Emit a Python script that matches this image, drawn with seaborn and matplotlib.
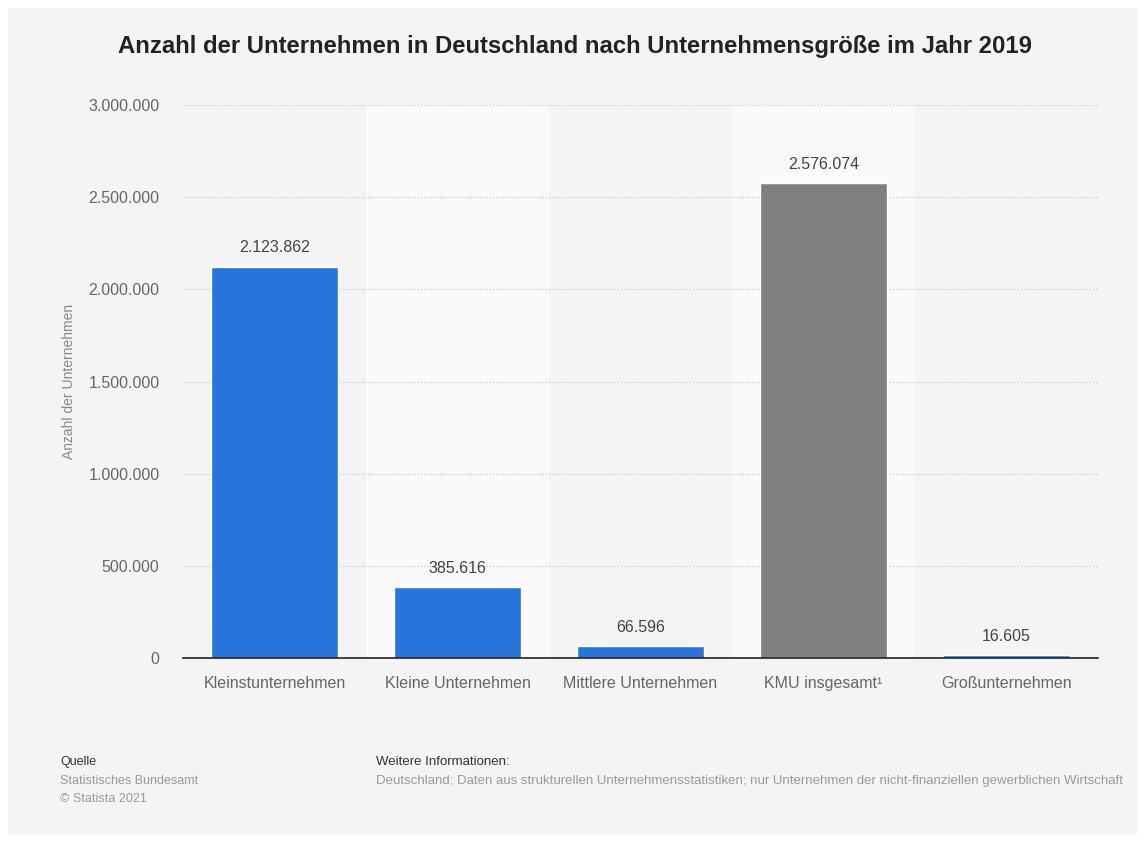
import matplotlib
matplotlib.use("Agg")
import matplotlib.pyplot as plt
import seaborn as sns
import pandas as pd
from matplotlib.patches import Rectangle
from matplotlib.ticker import FuncFormatter

categories = ["Kleinstunternehmen", "Kleine Unternehmen", "Mittlere Unternehmen",
              "KMU insgesamt¹", "Großunternehmen"]
values = [2123862, 385616, 66596, 2576074, 16605]
bar_colors = ["#2775dc", "#2775dc", "#2775dc", "#7f7f7f", "#2775dc"]
yticks = [0, 500000, 1000000, 1500000, 2000000, 2500000, 3000000]

def de_fmt(v):
    return f"{int(round(v)):,}".replace(",", ".")

sns.set_theme(style="white")
plt.rcParams['font.family'] = ['Liberation Sans', 'DejaVu Sans']

df = pd.DataFrame({"cat": categories, "val": values})

fig = plt.figure(figsize=(11.45, 8.41), dpi=100)
fig.patch.set_facecolor("white")
card = Rectangle((8/1145, 1-835/841), (1137-8)/1145, (835-8)/841,
                 transform=fig.transFigure, facecolor="#f4f4f4",
                 edgecolor="none", zorder=-10)
fig.patches.append(card)

ax = fig.add_axes([183/1145, 1-658/841, (1098-183)/1145, (658-105)/841])
ax.set_facecolor("none")
ax.set_zorder(2)

for i in range(len(categories)):
    if i % 2 == 1:
        ax.axvspan(i-0.5, i+0.5, color="#fafafa", zorder=0, lw=0)

sns.barplot(data=df, x="cat", y="val", hue="cat", palette=bar_colors,
            legend=False, width=0.69, saturation=1, ax=ax, zorder=3)

ax.set_xlim(-0.5, len(categories)-0.5)
ax.set_ylim(0, 3000000)
ax.set_yticks(yticks)
ax.yaxis.set_major_formatter(FuncFormatter(lambda v, p: de_fmt(v)))
ax.grid(axis="y", color="#c8c8c8", linestyle=(0, (1, 1.5)), linewidth=0.9, zorder=1)
ax.set_axisbelow(True)
for s in ["top", "right", "left"]:
    ax.spines[s].set_visible(False)
ax.spines["bottom"].set_color("#222222")
ax.spines["bottom"].set_linewidth(1.2)
ax.spines["bottom"].set_zorder(5)
ax.tick_params(axis="y", length=0, pad=17, labelsize=11.5, labelcolor="#666666")
ax.tick_params(axis="x", length=0, pad=13, labelsize=11.5, labelcolor="#666666")
ax.set_xlabel("")
ax.set_ylabel("Anzahl der Unternehmen", fontsize=10, color="#888888", labelpad=9)

for i, v in enumerate(values):
    ax.annotate(de_fmt(v), (i, v), xytext=(0, 8), textcoords="offset points",
                ha="center", va="bottom", fontsize=11.5, color="#444444")

fig.text(575/1145, 1-47/841, "Anzahl der Unternehmen in Deutschland nach Unternehmensgröße im Jahr 2019",
         ha="center", va="center", fontsize=17.2, fontweight="bold", color="#222222")

fig.text(60/1145, 1-762/841, "Quelle", ha="left", va="center", fontsize=9, color="#333333")
fig.text(60/1145, 1-781/841, "Statistisches Bundesamt", ha="left", va="center", fontsize=9, color="#999999")
fig.text(60/1145, 1-799/841, "© Statista 2021", ha="left", va="center", fontsize=9, color="#999999")
fig.text(376/1145, 1-762/841, "Weitere Informationen:", ha="left", va="center", fontsize=9.5, color="#333333")
fig.text(376/1145, 1-781/841,
         "Deutschland; Daten aus strukturellen Unternehmensstatistiken; nur Unternehmen der nicht-finanziellen gewerblichen Wirtschaft",
         ha="left", va="center", fontsize=9.5, color="#999999")

fig.savefig("out.png", dpi=100, facecolor=fig.get_facecolor())
